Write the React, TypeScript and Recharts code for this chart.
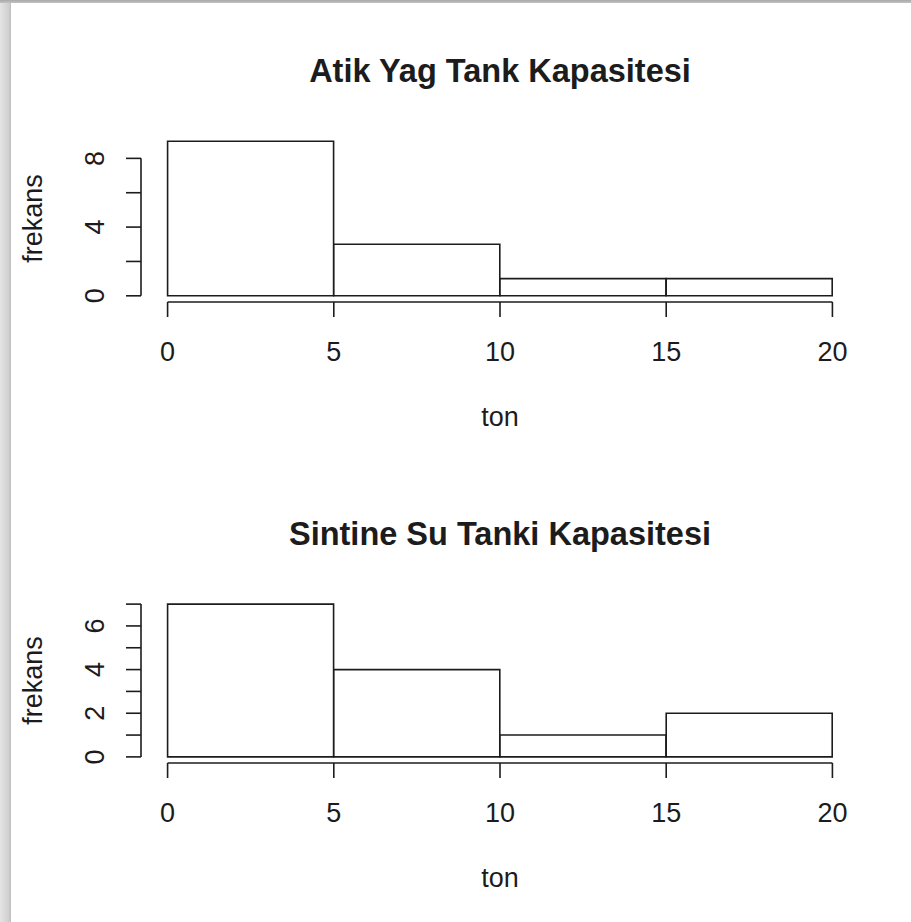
import { BarChart, Bar, XAxis, YAxis, ReferenceLine, Label } from "recharts";

// histogram bins (ton) and counts
const bins = ["0-5", "5-10", "10-15", "15-20"];
const binStarts = [0, 5, 10, 15];
const atikYagCounts = [9, 3, 1, 1];
const sintineSuCounts = [7, 4, 1, 2];

const xTicks = [0, 5, 10, 15, 20];
const atikYagTicks = [0, 2, 4, 6, 8];
const sintineSuTicks = [0, 1, 2, 3, 4, 5, 6, 7];

const W = 911;
const H = 461;
const LEFT = 141;
const RIGHT = 52;
const AXIS_H = 159;
const PLOT_W = W - LEFT - RIGHT;
const X_MIN = -0.8;
const X_MAX = 20.8;
const BAND_PAD = ((0 - X_MIN) / (X_MAX - X_MIN)) * PLOT_W;
const INK = "#1c1c1c";
const LINE_W = 1.6;
const FONT = '"Liberation Sans", Arial, sans-serif';

const YTick = (props: any) => {
  const { x, y, payload, every } = props;
  if (payload.value % every !== 0) return <g />;
  return (
    <text
      x={x}
      y={y}
      transform={`rotate(-90 ${x} ${y})`}
      textAnchor="middle"
      fill={INK}
      fontSize={27}
      fontFamily={FONT}
    >
      {payload.value}
    </text>
  );
};

type HistProps = {
  title: string;
  counts: number[];
  yTicks: number[];
  labelEvery: number;
  top: number;
};

const Histogram = ({ title, counts, yTicks, labelEvery, top }: HistProps) => {
  const data = bins.map((bin, i) => ({ bin, lo: binStarts[i], count: counts[i] }));
  const yMax = Math.max(...counts);
  const ext = yMax * 0.04;
  const yTop = yTicks[yTicks.length - 1];

  return (
    <BarChart
      width={W}
      height={H}
      data={data}
      margin={{ top, right: RIGHT, left: 0, bottom: 0 }}
      barCategoryGap={0}
      barGap={0}
    >
      <text
        x={LEFT + PLOT_W / 2}
        y={top - 53}
        textAnchor="middle"
        fill={INK}
        fontSize={32.5}
        fontWeight="bold"
        fontFamily={FONT}
      >
        {title}
      </text>
      <XAxis
        xAxisId="num"
        dataKey="lo"
        type="number"
        domain={[X_MIN, X_MAX]}
        ticks={xTicks}
        interval={0}
        allowDataOverflow
        height={AXIS_H}
        axisLine={false}
        tickSize={15}
        tickMargin={25}
        tickLine={{ stroke: INK, strokeWidth: LINE_W }}
        tick={{ fill: INK, fontSize: 27, fontFamily: FONT }}
      >
        <Label
          content={(p: any) => {
            const vb = p.viewBox || { x: LEFT, y: top + 167, width: PLOT_W };
            return (
              <text
                x={vb.x + vb.width / 2}
                y={vb.y + 124}
                textAnchor="middle"
                fill={INK}
                fontSize={27}
                fontFamily={FONT}
              >
                ton
              </text>
            );
          }}
        />
      </XAxis>
      <XAxis
        xAxisId="bins"
        dataKey="bin"
        hide
        height={0}
        padding={{ left: BAND_PAD, right: BAND_PAD }}
      />
      <YAxis
        type="number"
        domain={[-ext, yMax + ext]}
        ticks={yTicks}
        interval={0}
        allowDataOverflow
        width={LEFT}
        axisLine={false}
        tickSize={15}
        tickMargin={22}
        tickLine={{ stroke: INK, strokeWidth: LINE_W }}
        tick={(p: any) => <YTick {...p} every={labelEvery} />}
      >
        <Label
          content={(p: any) => {
            const vb = p.viewBox || { y: top, height: H - top - AXIS_H };
            const cx = 42;
            const cy = vb.y + vb.height / 2;
            return (
              <text
                x={cx}
                y={cy}
                transform={`rotate(-90 ${cx} ${cy})`}
                textAnchor="middle"
                fill={INK}
                fontSize={27}
                fontFamily={FONT}
              >
                frekans
              </text>
            );
          }}
        />
      </YAxis>
      <Bar
        xAxisId="bins"
        dataKey="count"
        fill="#ffffff"
        stroke={INK}
        strokeWidth={LINE_W}
        isAnimationActive={false}
      />
      <ReferenceLine
        xAxisId="num"
        ifOverflow="visible"
        segment={[
          { x: xTicks[0], y: -ext },
          { x: xTicks[xTicks.length - 1], y: -ext },
        ]}
        stroke={INK}
        strokeWidth={LINE_W}
      />
      <ReferenceLine
        xAxisId="num"
        ifOverflow="visible"
        segment={[
          { x: X_MIN, y: yTicks[0] },
          { x: X_MIN, y: yTop },
        ]}
        stroke={INK}
        strokeWidth={LINE_W}
      />
    </BarChart>
  );
};

export default function App() {
  return (
    <div style={{ position: "relative", width: 911, height: 922, background: "#fff", overflow: "hidden" }}>
      <style>{"body{margin:0}"}</style>
      <div
        style={{
          position: "absolute",
          left: 0,
          top: 0,
          width: 11,
          height: 922,
          background: "linear-gradient(to right, #e4e4e4, #cfcfcf 80%, #bdbdbd)",
        }}
      />
      <div
        style={{
          position: "absolute",
          left: 0,
          top: 0,
          width: 911,
          height: 3,
          background: "linear-gradient(to bottom, #a9a9a9, #c2c2c2)",
        }}
      />
      <div style={{ position: "absolute", left: 0, top: 0 }}>
        <Histogram
          title="Atik Yag Tank Kapasitesi"
          counts={atikYagCounts}
          yTicks={atikYagTicks}
          labelEvery={4}
          top={135}
        />
      </div>
      <div style={{ position: "absolute", left: 0, top: 461 }}>
        <Histogram
          title="Sintine Su Tanki Kapasitesi"
          counts={sintineSuCounts}
          yTicks={sintineSuTicks}
          labelEvery={2}
          top={137}
        />
      </div>
    </div>
  );
}
